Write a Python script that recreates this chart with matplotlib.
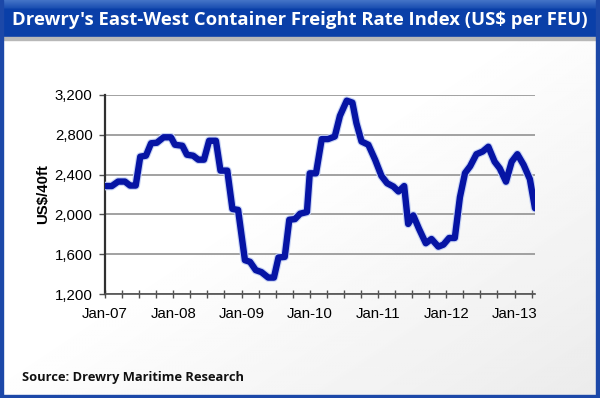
import numpy as np
import matplotlib
matplotlib.use("Agg")
import matplotlib.pyplot as plt
from matplotlib.patches import Rectangle

# months since Jan-07 and index values
months = [0, 1.2, 2.3, 3.5, 4.4, 5.4, 6.2, 7.2, 8.1, 9.1, 10.3, 11.6, 12.3, 13.6,
          14.4, 15.5, 16.4, 17.4, 18.3, 19.5, 20.3, 21.5, 22.4, 23.4, 24.6, 25.5,
          26.5, 27.5, 28.7, 29.7, 30.5, 31.6, 32.4, 33.4, 34.3, 35.5, 36.0, 37.1,
          38.1, 39.2, 40.4, 41.3, 42.5, 43.5, 44.2, 45.1, 46.3, 47.5, 48.6, 49.6,
          50.7, 51.6, 52.6, 53.3, 54.2, 55.2, 56.4, 57.4, 58.6, 59.5, 60.5, 61.5,
          62.4, 63.3, 64.2, 65.3, 66.4, 67.4, 68.5, 69.4, 70.5, 71.5, 72.5, 73.6,
          74.7, 75.6]
rate = [2285, 2285, 2330, 2330, 2290, 2290, 2580, 2590, 2715, 2720, 2775, 2775,
        2700, 2690, 2600, 2590, 2550, 2550, 2740, 2740, 2440, 2440, 2055, 2045,
        1540, 1523, 1440, 1420, 1365, 1365, 1567, 1573, 1946, 1953, 2007, 2024,
        2413, 2413, 2757, 2757, 2783, 2990, 3143, 3123, 2918, 2733, 2700, 2548,
        2387, 2313, 2280, 2230, 2285, 1904, 1990, 1856, 1710, 1753, 1676, 1696,
        1763, 1763, 2173, 2416, 2484, 2605, 2632, 2680, 2530, 2463, 2329, 2530,
        2605, 2498, 2354, 2062]

tick_pos = [0, 12, 24, 36, 48, 60, 72]
tick_lab = ["Jan-07", "Jan-08", "Jan-09", "Jan-10", "Jan-11", "Jan-12", "Jan-13"]
y_ticks = [1200, 1600, 2000, 2400, 2800, 3200]

W, H = 600, 398
fig = plt.figure(figsize=(6, 3.98), dpi=100)

# background with a faint gradient
bg = fig.add_axes([0, 0, 1, 1])
gx, gy = np.meshgrid(np.linspace(0, 1, 200), np.linspace(0, 1, 200))
g = np.clip((gx * 0.6 + gy * 0.6) - 0.55, 0, 1)
bg.imshow(1 - 0.12 * g, cmap="gray", vmin=0, vmax=1, extent=[0, 1, 0, 1],
          aspect="auto", origin="upper")
bg.set_xlim(0, 1)
bg.set_ylim(0, 1)
bg.axis("off")

# title bar
bar_h = 37 / H
shade = fig.add_axes([0, 1 - bar_h, 1, bar_h])
grad = np.concatenate([np.linspace(0.55, 0.15, 12), np.full(40, 0.0)])
cols = np.array([[0.04, 0.25, 0.66]]) * (1 - grad[:, None]) + np.array([[0.45, 0.62, 0.88]]) * grad[:, None]
shade.imshow(cols[:, None, :], extent=[0, 1, 0, 1], aspect="auto")
shade.axis("off")
fig.patches.append(Rectangle((0, 1 - bar_h - 3 / H), 1, 3 / H, transform=fig.transFigure,
                             color="#b8b8b8", zorder=2))
fig.text(0.5, 1 - 20 / H, "Drewry's East-West Container Freight Rate Index (US$ per FEU)",
         color="white", fontsize=13.3, fontweight="bold", family="Open Sans",
         ha="center", va="center")

# blue frame
for r in [(0, 0, 3 / W, 1), (1 - 4 / W, 0, 4 / W, 1), (0, 0, 1, 3 / H)]:
    fig.patches.append(Rectangle(r[:2], r[2], r[3], transform=fig.transFigure,
                                 color="#1c48a8", zorder=3))

ax = fig.add_axes([105 / W, 1 - 294 / H, 430 / W, 199 / H])
ax.patch.set_alpha(0)
ax.plot(months, rate, color="#c8d4f4", lw=6.2, solid_joinstyle="round",
        solid_capstyle="round", zorder=3)
ax.plot(months, rate, color="#0614a4", lw=4.6, solid_joinstyle="round",
        solid_capstyle="round", zorder=4)
ax.set_xlim(0, 75.6)
ax.set_ylim(1200, 3200)
ax.set_yticks(y_ticks)
ax.set_yticklabels([f"{v:,}" for v in y_ticks], fontsize=10.8, family="Liberation Sans")
ax.set_xticks(tick_pos)
ax.set_xticklabels(tick_lab, fontsize=10.8, family="Liberation Sans")
ax.set_xticks(np.arange(0, 76, 3), minor=True)
ax.grid(axis="y", color="#9a9a9a", lw=1.3)
ax.set_axisbelow(True)
for s in ["top", "right"]:
    ax.spines[s].set_visible(False)
ax.spines["left"].set_color("#303030")
ax.spines["left"].set_linewidth(1.6)
ax.spines["bottom"].set_color("#505050")
ax.spines["bottom"].set_linewidth(1.2)
ax.tick_params(axis="x", which="both", direction="inout", length=6, width=1, color="#505050", pad=6)
ax.tick_params(axis="y", direction="out", length=4, width=1, color="#505050", pad=5)
ax.set_ylabel("US$/40ft", fontsize=10.8, fontweight="bold", family="Liberation Sans", labelpad=3)

fig.text(22 / W, 1 - 377 / H, "Source: Drewry Maritime Research", fontsize=9.3,
         fontweight="bold", family="Open Sans", va="center", ha="left", color="#111111")

fig.savefig("out.png", dpi=100)
